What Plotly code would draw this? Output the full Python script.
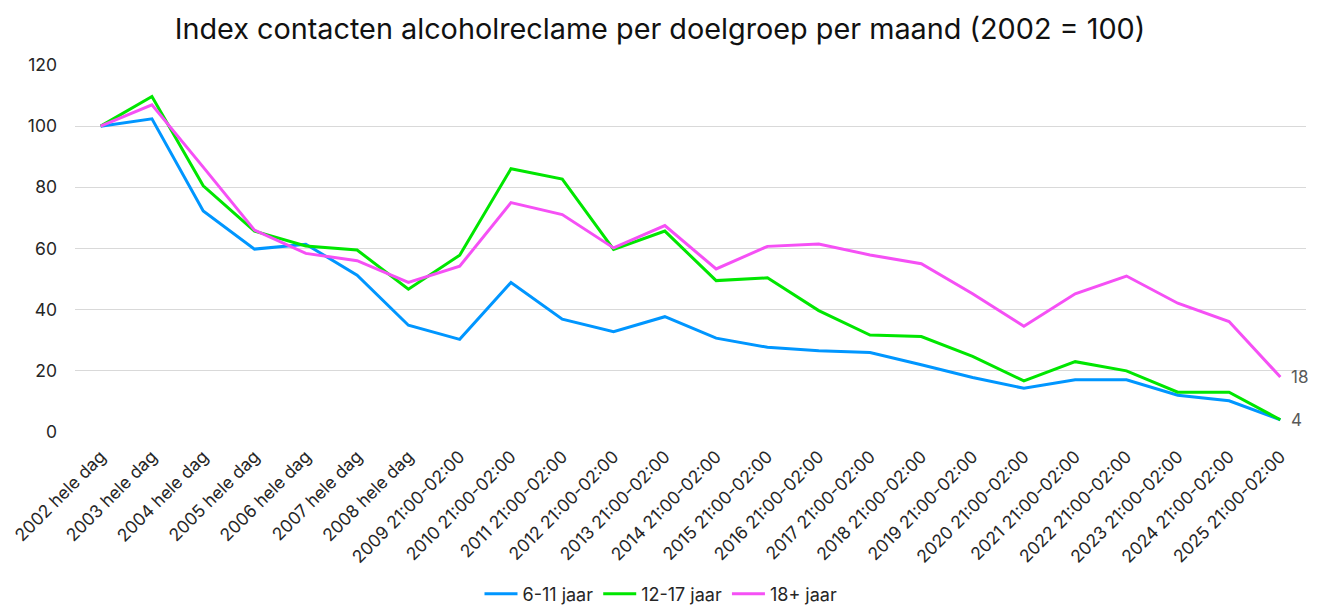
import plotly.graph_objects as go

years = list(range(2002, 2026))
categories = [f"{y} hele dag" if y <= 2008 else f"{y} 21:00-02:00" for y in years]

kids_6_11 = [100, 102.4, 72.3, 59.8, 61.4, 51.3, 34.9, 30.3, 48.9, 36.9, 32.8, 37.7,
             30.7, 27.7, 26.6, 26.0, 22.0, 17.8, 14.3, 17.1, 17.1, 12.0, 10.2, 4]
teens_12_17 = [100, 109.7, 80.5, 65.7, 60.8, 59.5, 46.7, 57.8, 86.1, 82.7, 59.7, 65.7,
               49.5, 50.4, 39.7, 31.7, 31.2, 24.7, 16.7, 23.0, 20.0, 13.0, 13.0, 4]
adults_18 = [100, 107.0, 86.6, 66.0, 58.4, 56.0, 48.9, 54.2, 75.0, 71.1, 60.2, 67.5,
             53.3, 60.7, 61.5, 57.9, 55.0, 45.2, 34.6, 45.2, 51.0, 42.1, 36.1, 18]

series_names = ["6-11 jaar", "12-17 jaar", "18+ jaar"]
series_colors = ["#0096FF", "#00E600", "#F550F5"]
series_values = [kids_6_11, teens_12_17, adults_18]

y_ticks = [0, 20, 40, 60, 80, 100, 120]

FONT = "Inter"

fig = go.Figure()
for name, color, vals in zip(series_names, series_colors, series_values):
    fig.add_trace(go.Scatter(
        x=categories, y=vals, mode="lines", name=name,
        line=dict(color=color, width=3),
    ))

# end labels
for vals, label in [(adults_18, "18"), (teens_12_17, "4")]:
    fig.add_annotation(
        x=categories[-1], y=vals[-1], xref="x", yref="y",
        text=label, showarrow=False, xanchor="left", xshift=9,
        font=dict(family=FONT, size=17, color="#595959"),
    )

fig.update_layout(
    width=1328, height=608,
    paper_bgcolor="white", plot_bgcolor="white",
    margin=dict(l=75, r=22, t=65, b=176, autoexpand=False),
    title=dict(
        text="Index contacten alcoholreclame per doelgroep per maand (2002 = 100)",
        x=660 / 1328, xref="container", xanchor="center",
        y=1 - 29 / 608, yref="container", yanchor="middle",
        font=dict(family=FONT, size=28.8, color="#111111"),
    ),
    font=dict(family=FONT, size=17, color="#262626"),
    legend=dict(
        orientation="h", x=(661 - 75) / 1231, xref="paper", xanchor="center",
        y=-(594 - 432) / 367, yref="paper", yanchor="middle",
        font=dict(family=FONT, size=18, color="#262626"),
        tracegroupgap=0, itemwidth=33,
    ),
    showlegend=True,
)
fig.update_xaxes(
    type="category", range=[-0.5, len(categories) - 0.5],
    tickangle=-45, showgrid=False, showline=False, ticks="", automargin=False,
    ticklabelstandoff=10,
    tickfont=dict(family=FONT, size=17.5, color="#262626"),
)
fig.update_yaxes(
    range=[0, 120], tickvals=y_ticks, showgrid=True, gridcolor="#D9D9D9", gridwidth=1,
    zeroline=False, showline=False, ticks="", ticklabelstandoff=17, automargin=False,
    tickfont=dict(family=FONT, size=17.5, color="#262626"),
)

fig.write_html("out.html", config={"displayModeBar": False})

# remove the default page margin so the figure sits at the window's top-left corner
with open("out.html", "r", encoding="utf-8") as f:
    html = f.read()
html = html.replace("<head>", "<head><style>html,body{margin:0;padding:0;overflow:hidden;}</style>", 1)
with open("out.html", "w", encoding="utf-8") as f:
    f.write(html)
